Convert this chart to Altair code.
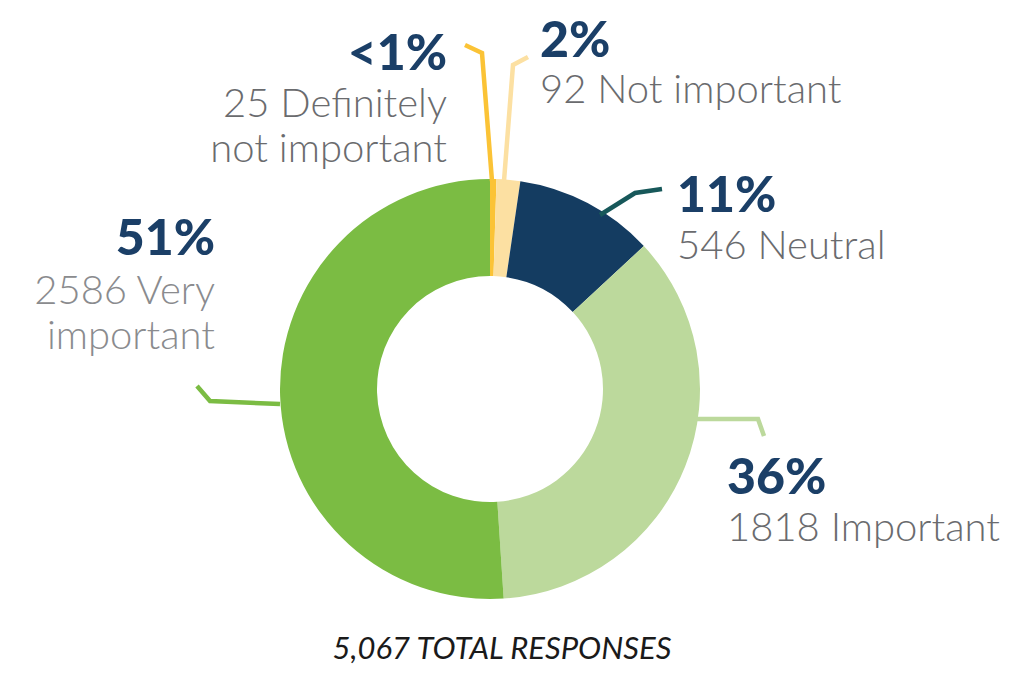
import altair as alt
import pandas as pd

# ---- data ----
categories = ["Definitely not important", "Not important", "Neutral", "Important", "Very important"]
counts = [25, 92, 546, 1818, 2586]
pct_labels = ["<1%", "2%", "11%", "36%", "51%"]
detail_labels = ["25 Definitely\nnot important", "92 Not important", "546 Neutral",
                 "1818 Important", "2586 Very\nimportant"]
total_label = "5,067 TOTAL RESPONSES"

# ---- styling / layout ----
slice_colors = ["#FBC336", "#FCE0A2", "#143C61", "#BCD99C", "#7BBC43"]
leader_colors = ["#FBC336", "#FCE0A2", "#17585A", "#BCD99C", "#7BBC43"]
detail_colors = ["#6A6B6E", "#6A6B6E", "#6A6B6E", "#6A6B6E", "#8A8B8E"]
W, H = 994, 657
cx, cy = 490, 389          # page coordinates of donut centre
outer_r, inner_r = 210, 113

# label anchor (page coords): x, baseline of pct, baseline of detail, align
label_pos = [
    (447, 70, 117, "right"),
    (540, 57, 103, "left"),
    (677, 212, 259, "left"),
    (727, 494, 541, "left"),
    (215, 255, 304, "right"),
]
# leader polylines (page coords)
leaders = [
    [(492, 181), (482, 53), (465, 45)],
    [(504, 181), (513, 65), (528, 57)],
    [(600, 215), (635, 193), (662, 189)],
    [(697, 419), (758, 419), (764, 436)],
    [(280, 404), (210, 401), (197, 386)],
]

arc_df = pd.DataFrame({"category": categories, "count": counts, "order": range(len(counts))})

lead_rows = []
for i, pts in enumerate(leaders):
    for j, (px, py) in enumerate(pts):
        lead_rows.append({"category": categories[i], "px": px, "py": py, "k": j})
lead_df = pd.DataFrame(lead_rows)

lab_rows = []
for i in range(len(categories)):
    x, yp, yd, al = label_pos[i]
    lab_rows.append({"category": categories[i], "pct": pct_labels[i], "detail": detail_labels[i],
                     "px": x, "yp": yp, "yd": yd, "align": al, "tcolor": detail_colors[i]})
lab_df = pd.DataFrame(lab_rows)

xs = alt.Scale(domain=[8, 8 + W], range=[0, W])
ys = alt.Scale(domain=[8, 8 + H], range=[0, H])

color_scale = alt.Scale(domain=categories, range=slice_colors)

arc = alt.Chart(arc_df).mark_arc(innerRadius=inner_r, outerRadius=outer_r).encode(
    theta=alt.Theta("count:Q", stack=True),
    order=alt.Order("order:O"),
    color=alt.Color("category:N", scale=color_scale, legend=None),
    x=alt.value(cx - 8),
    y=alt.value(cy - 8),
)

lines = alt.Chart(lead_df).mark_line(strokeWidth=4.5, strokeCap="butt", strokeJoin="miter").encode(
    x=alt.X("px:Q", scale=xs, axis=None),
    y=alt.Y("py:Q", scale=ys, axis=None),
    detail="category:N",
    order="k:Q",
    color=alt.Color("category:N", scale=alt.Scale(domain=categories, range=leader_colors), legend=None),
)

layers = [lines]
for al in ["left", "right"]:
    sub = lab_df[lab_df["align"] == al]
    pct = alt.Chart(sub).mark_text(align=al, baseline="alphabetic", font="Lato",
                                   fontWeight=900, fontSize=50, color="#1B3F67").encode(
        x=alt.X("px:Q", scale=xs, axis=None),
        y=alt.Y("yp:Q", scale=ys, axis=None),
        text="pct:N",
    )
    det = alt.Chart(sub).mark_text(align=al, baseline="alphabetic", font="Lato", fontWeight=300,
                                   fontSize=40, lineBreak="\n", lineHeight=45).encode(
        x=alt.X("px:Q", scale=xs, axis=None),
        y=alt.Y("yd:Q", scale=ys, axis=None),
        text="detail:N",
        color=alt.Color("tcolor:N", scale=None),
    )
    layers += [pct, det]

title_df = pd.DataFrame({"t": [total_label], "px": [502], "py": [659]})
title = alt.Chart(title_df).mark_text(align="center", baseline="alphabetic", font="Lato",
                                      fontStyle="italic", fontSize=31, color="#1a1a1a").encode(
    x=alt.X("px:Q", scale=xs, axis=None),
    y=alt.Y("py:Q", scale=ys, axis=None),
    text="t:N",
)

chart = alt.layer(arc, *layers, title).resolve_scale(color="independent").properties(
    width=W, height=H, padding=0, autosize=alt.AutoSizeParams(type="none")
).configure_view(stroke=None)

chart.save("out.html", embed_options={"renderer": "svg", "actions": False})
